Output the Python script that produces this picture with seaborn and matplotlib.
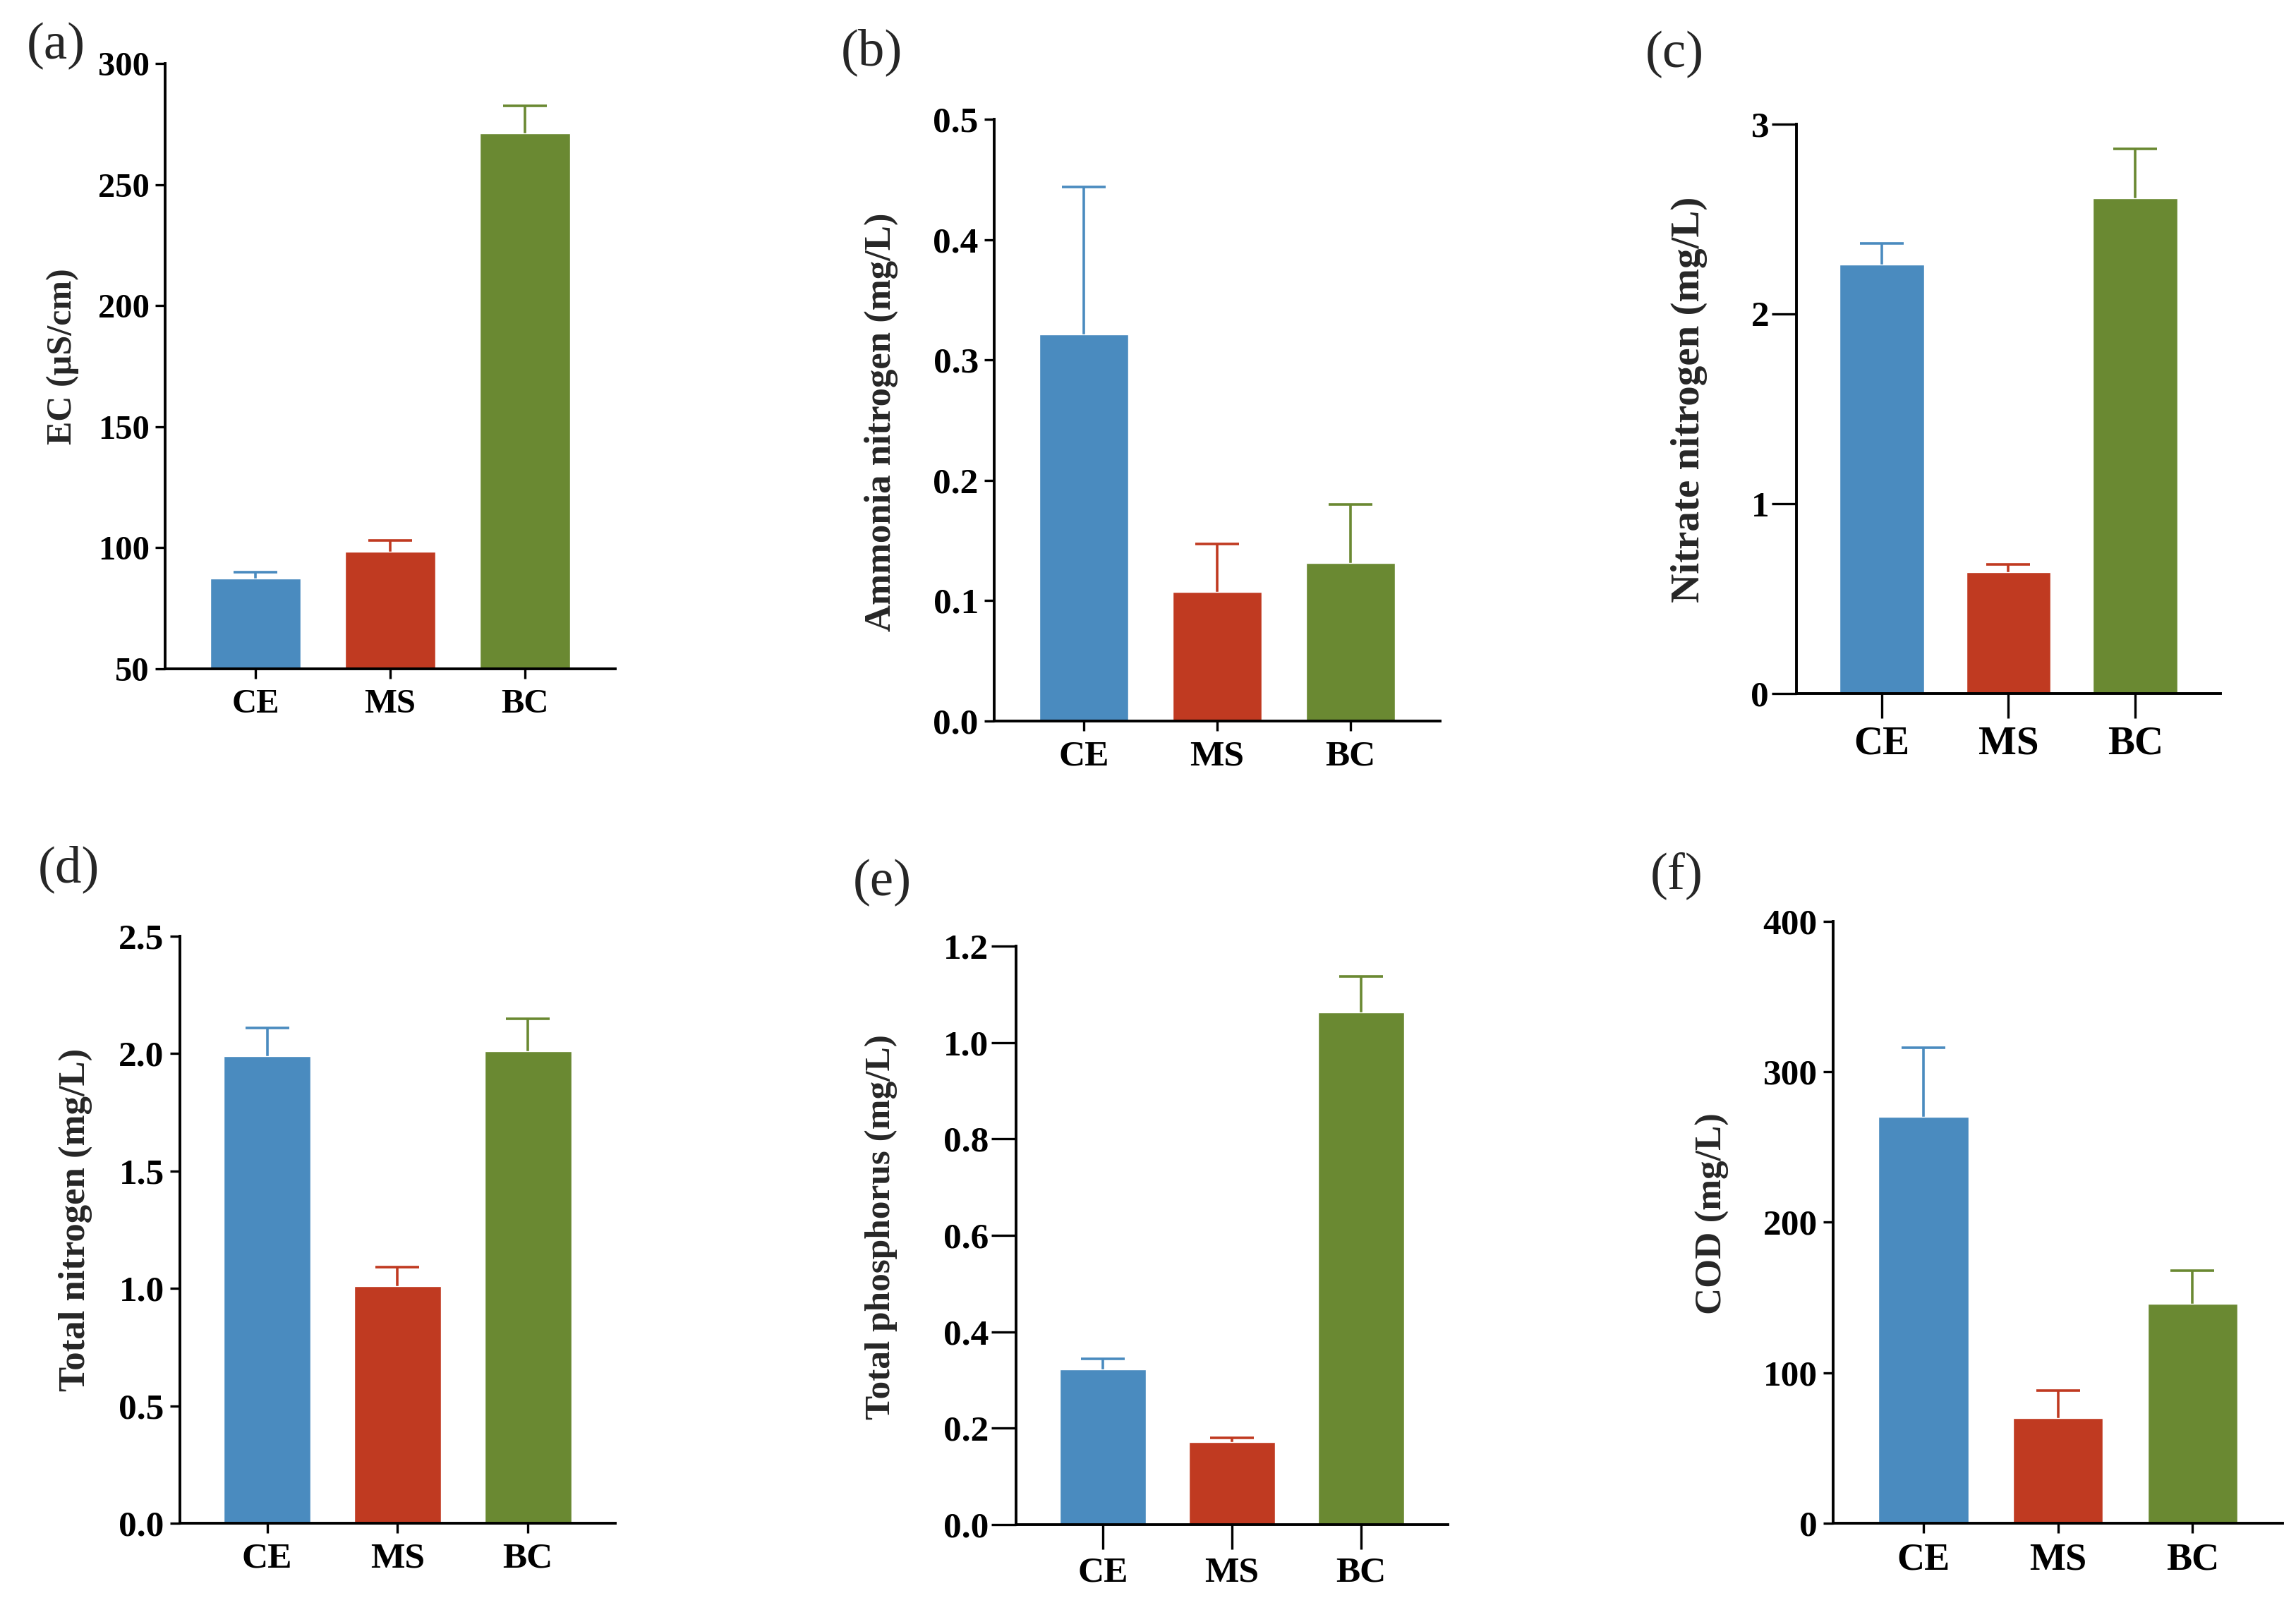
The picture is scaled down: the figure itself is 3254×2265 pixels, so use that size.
import matplotlib
matplotlib.use("Agg")
import matplotlib.pyplot as plt
import seaborn as sns
import pandas as pd

# groups and bar colours
categories = ["CE", "MS", "BC"]
colors = ["#4A8BBF", "#C03A21", "#6A8932"]

# mean values and upper error
ec_mean = [87.2, 98.2, 271.0]
ec_err = [2.8, 4.9, 11.4]

nh4_mean = [0.321, 0.107, 0.131]
nh4_err = [0.123, 0.040, 0.049]

no3_mean = [2.26, 0.64, 2.61]
no3_err = [0.11, 0.04, 0.26]

tn_mean = [1.99, 1.01, 2.01]
tn_err = [0.12, 0.08, 0.14]

tp_mean = [0.322, 0.172, 1.062]
tp_err = [0.022, 0.008, 0.075]

cod_mean = [270, 70, 146]
cod_err = [46, 18, 22]

sns.set_style("ticks")
plt.rcParams["font.family"] = ["Liberation Serif", "DejaVu Serif"]
plt.rcParams["font.weight"] = "bold"

fig = plt.figure(figsize=(32.55, 22.65), dpi=100)

# one entry per panel: letter, y label, data, y range, ticks, tick format, axes rect, long ticks,
# panel letter position, y label position, font sizes (ytick, xtick, ylabel)
panels = [
    ("(a)", "EC (µS/cm)", ec_mean, ec_err, (50, 300), [50, 100, 150, 200, 250, 300], "%d",
     [0.0719, 0.5815, 0.196, 0.3788], False, (0.0243, 0.971), (0.0345, 0.777), (35, 35, 36)),
    ("(b)", "Ammonia nitrogen (mg/L)", nh4_mean, nh4_err, (0, 0.5), [0, 0.1, 0.2, 0.3, 0.4, 0.5], "%.1f",
     [0.4329, 0.5488, 0.1941, 0.3766], False, (0.3797, 0.967), (0.391, 0.736), (37, 37, 38)),
    ("(c)", "Nitrate nitrogen (mg/L)", no3_mean, no3_err, (0, 3), [0, 1, 2, 3], "%d",
     [0.7822, 0.566, 0.1846, 0.3563], True, (0.729, 0.966), (0.7434, 0.750), (37, 41, 41)),
    ("(d)", "Total nitrogen (mg/L)", tn_mean, tn_err, (0, 2.5), [0, 0.5, 1.0, 1.5, 2.0, 2.5], "%.1f",
     [0.0783, 0.0468, 0.1896, 0.3673], False, (0.0298, 0.456), (0.0402, 0.2366), (37, 37, 38)),
    ("(e)", "Total phosphorus (mg/L)", tp_mean, tp_err, (0, 1.2), [0, 0.2, 0.4, 0.6, 0.8, 1.0, 1.2], "%.1f",
     [0.4424, 0.0459, 0.188, 0.362], True, (0.384, 0.4477), (0.3907, 0.232), (37, 37, 37)),
    ("(f)", "COD (mg/L)", cod_mean, cod_err, (0, 400), [0, 100, 200, 300, 400], "%d",
     [0.7982, 0.0468, 0.1957, 0.3766], False, (0.730, 0.452), (0.7531, 0.2406), (37, 39, 38)),
]

for letter, ylabel, mean, err, ylim, yticks, fmt, rect, long_ticks, lpos, ypos, fs in panels:
    ax = fig.add_axes(rect)
    df = pd.DataFrame({"group": categories, "value": mean})
    sns.barplot(data=df, x="group", y="value", hue="group", palette=colors,
                width=0.667, legend=False, ax=ax, saturation=1)

    # upper error bars only, same colour as the bar
    for i in range(len(categories)):
        eb = ax.errorbar(i, mean[i], yerr=[[0], [err[i]]], fmt="none", ecolor=colors[i],
                         elinewidth=2.6, capsize=22, capthick=2.6, zorder=0.5)
        eb[1][0].set_visible(False)  # no cap at the bar top

    ax.set_xlim(-0.67, 2.67)
    ax.set_ylim(*ylim)
    ax.set_yticks(yticks)
    ax.set_yticklabels([fmt % t for t in yticks])
    ax.set_xlabel("")
    ax.set_ylabel(ylabel, fontsize=fs[2], fontweight="bold")
    ax.yaxis.set_label_coords(ypos[0], ypos[1], transform=fig.transFigure)

    sns.despine(ax=ax)
    for s in ["left", "bottom"]:
        ax.spines[s].set_linewidth(2.8)
        ax.spines[s].set_color("black")

    tl = 25 if long_ticks else 10
    ax.tick_params(axis="y", length=tl, width=2.4, pad=3 if long_ticks else 6, labelsize=fs[0], colors="black")
    ax.tick_params(axis="x", length=tl, width=2.4, pad=8 if long_ticks else 10, labelsize=fs[1], colors="black")
    for lab in ax.get_xticklabels() + ax.get_yticklabels():
        lab.set_fontweight("bold")

    fig.text(lpos[0], lpos[1], letter, fontsize=54, fontweight="normal", ha="center", va="center")

fig.savefig("out.png", dpi=100, facecolor="white")
plt.close("all")
